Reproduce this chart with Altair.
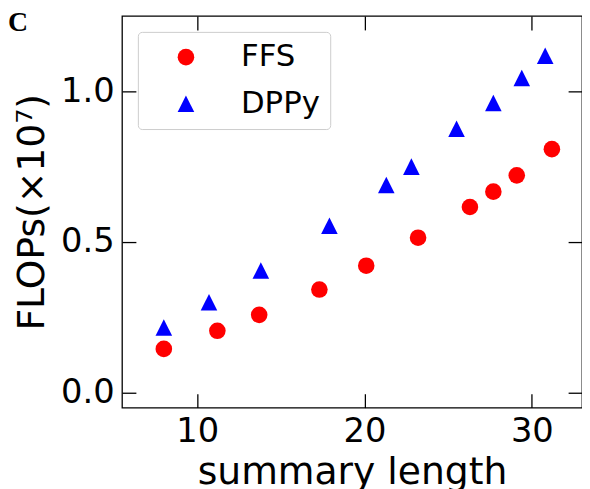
import altair as alt
import pandas as pd

# data
ffs_x = [8.0, 11.2, 13.7, 17.3, 20.1, 23.2, 26.3, 27.7, 29.1, 31.2]
ffs_y = [0.145, 0.205, 0.258, 0.342, 0.421, 0.514, 0.616, 0.667, 0.721, 0.808]
dppy_x = [8.0, 10.7, 13.8, 17.9, 21.3, 22.8, 25.5, 27.7, 29.4, 30.8]
dppy_y = [0.216, 0.300, 0.405, 0.554, 0.689, 0.750, 0.876, 0.961, 1.044, 1.118]
series = ["FFS", "DPPy"]
x_ticks = [10, 20, 30]
y_ticks = [0.0, 0.5, 1.0]
x_domain = [5.5, 33.0]
y_domain = [-0.05, 1.25]

df = pd.DataFrame({
    "len": ffs_x + dppy_x,
    "flops": ffs_y + dppy_y,
    "method": [series[0]] * len(ffs_x) + [series[1]] * len(dppy_x),
})

FONT = "DejaVu Sans"
TRI = "M0,-1L1,1L-1,1Z"

xs = alt.Scale(domain=x_domain, nice=False, zero=False)
ys = alt.Scale(domain=y_domain, nice=False, zero=False)

points = alt.Chart(df).mark_point(filled=True, opacity=1, size=280, strokeWidth=0).encode(
    x=alt.X("len:Q", scale=xs, axis=alt.Axis(
        values=x_ticks, format="d", orient="bottom", title="summary length",
        offset=-14, tickSize=14, domain=False, grid=False, labelPadding=7,
        titlePadding=6)),
    y=alt.Y("flops:Q", scale=ys, axis=alt.Axis(
        values=y_ticks, format=".1f", orient="left", title="FLOPs(×10⁷)",
        offset=-14, tickSize=14, domain=False, grid=False, labelPadding=8,
        titlePadding=9)),
    color=alt.Color("method:N", scale=alt.Scale(domain=series, range=["#ff0000", "#0000ff"]),
                    legend=alt.Legend(title=None, orient="none", legendX=16, legendY=16)),
    shape=alt.Shape("method:N", scale=alt.Scale(domain=series, range=["circle", TRI])),
)

mirror = alt.Chart(df).mark_point(opacity=0).encode(
    x=alt.X("len:Q", scale=xs, axis=alt.Axis(
        values=x_ticks, orient="top", labels=False, title=None,
        offset=-14, tickSize=14, domain=False, grid=False)),
    y=alt.Y("flops:Q", scale=ys, axis=alt.Axis(
        values=y_ticks, orient="right", labels=False, title=None,
        offset=-14, tickSize=14, domain=False, grid=False)),
)

panel = alt.Chart(pd.DataFrame({"label": ["C"]})).mark_text(
    font="Liberation Serif", fontWeight="bold", fontSize=28, align="left",
    baseline="alphabetic", color="black").encode(
    x=alt.value(-115), y=alt.value(15), text="label:N")

chart = alt.layer(points, mirror, panel).resolve_scale(x="independent", y="independent").properties(
    width=464, height=395, autosize="none",
    padding={"left": 115, "top": 6, "right": 0, "bottom": 80},
).configure_view(stroke="black", strokeWidth=1.3).configure_axis(
    labelFont=FONT, labelFontSize=34, labelColor="black",
    titleFont=FONT, titleFontSize=38, titleFontWeight="normal", titleColor="black",
    tickColor="black", tickWidth=1.3,
).configure_legend(
    labelFont=FONT, labelFontSize=31, labelColor="black",
    fillColor="white", strokeColor="#cccccc", cornerRadius=4,
    padding=10, rowPadding=15, symbolSize=280, symbolOffset=23, labelOffset=40,
    symbolStrokeWidth=0,
)

chart.save("out.html", embed_options={"renderer": "svg", "actions": False})
